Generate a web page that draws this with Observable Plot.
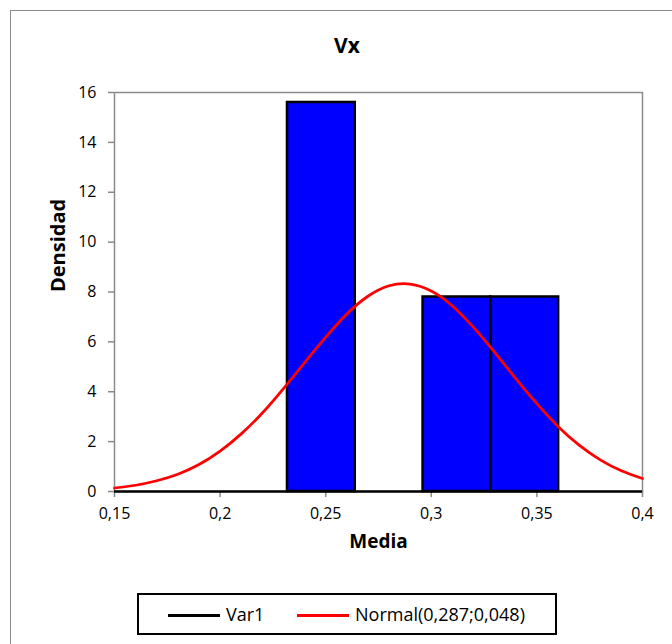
<!DOCTYPE html>
<html>
<head>
<meta charset="utf-8">
<script src="https://cdn.jsdelivr.net/npm/d3@7"></script>
<script src="https://cdn.jsdelivr.net/npm/@observablehq/plot@0.6"></script>
<style>
  html, body { margin: 0; padding: 0; background: #fff; }
  #wrap { position: relative; width: 672px; height: 644px; overflow: hidden; font-family: "Open Sans", sans-serif; }
  #outer { position: absolute; left: 10px; top: 10px; width: 700px; height: 700px; border: 1.5px solid #8a8a8a; box-sizing: border-box; }
  #chart { position: absolute; left: 0; top: 0; }
  #title { position: absolute; left: 247px; width: 200px; top: 30px; text-align: center; font-weight: bold; font-size: 21px; line-height: 30px; }
  #legend { position: absolute; left: 137px; top: 593px; width: 420px; height: 42px; border: 2px solid #000; box-sizing: border-box; font-size: 18px; }
  .sw { position: absolute; top: 19px; width: 52px; height: 0; border-top: 3px solid #000; }
  .lt { position: absolute; top: 6px; line-height: 26px; }
</style>
</head>
<body>
<div id="wrap">
  <div id="outer"></div>
  <div id="chart"></div>
  <div id="title">Vx</div>
  <div id="legend">
    <div class="sw" style="left:29px;border-color:#000"></div>
    <div class="lt" style="left:87px">Var1</div>
    <div class="sw" style="left:158px;border-color:#ff0000"></div>
    <div class="lt" style="left:216px">Normal(0,287;0,048)</div>
  </div>
</div>
<script>
// Histogram bins (Media) and densities
const binStart = [0.2319, 0.2640, 0.2961, 0.3282];
const binEnd   = [0.2640, 0.2961, 0.3282, 0.3603];
const density  = [15.6, 0, 7.8, 7.8];

// Normal(0,287;0,048) curve points
const curveX = [0.15, 0.16, 0.17, 0.18, 0.19, 0.20, 0.21, 0.22, 0.23, 0.24, 0.25, 0.26, 0.27, 0.28, 0.29, 0.30, 0.31, 0.32, 0.33, 0.34, 0.35, 0.36, 0.37, 0.38, 0.39, 0.40];
const curveY = [0.14, 0.25, 0.43, 0.69, 1.08, 1.62, 2.31, 3.15, 4.13, 5.17, 6.19, 7.12, 7.83, 8.25, 8.32, 8.04, 7.44, 6.58, 5.58, 4.53, 3.52, 2.61, 1.86, 1.27, 0.83, 0.52];

// Axis ticks
const xTicks = [0.15, 0.2, 0.25, 0.3, 0.35, 0.4];
const yTicks = [0, 2, 4, 6, 8, 10, 12, 14, 16];

const bars = binStart.map((s, i) => ({x1: s, x2: binEnd[i], y: density[i]})).filter(d => d.y > 0);
const curve = curveX.map((x, i) => ({x, y: curveY[i]}));
const fmt = d => String(d).replace(".", ",");

const plot = Plot.plot({
  width: 672,
  height: 580,
  marginLeft: 114,
  marginRight: 30,
  marginTop: 92,
  marginBottom: 89,
  style: {fontFamily: "Open Sans, sans-serif", fontSize: "16px", color: "#000", background: "transparent"},
  x: {domain: [0.15, 0.4]},
  y: {domain: [0, 16]},
  marks: [
    Plot.frame({stroke: "#8a8a8a", strokeWidth: 1.5}),
    Plot.axisY({ticks: yTicks, tickSize: 6, tickPadding: 12, tickFormat: d => String(d), stroke: "#8a8a8a", fill: "#000", strokeWidth: 1.5, label: null}),
    Plot.axisX({ticks: xTicks, tickSize: 6, tickPadding: 10, tickFormat: fmt, stroke: "#8a8a8a", fill: "#000", strokeWidth: 1.5, label: null}),
    Plot.rectY(bars, {x1: "x1", x2: "x2", y: "y", fill: "#0000ff", stroke: "#000", strokeWidth: 2.5}),
    Plot.ruleY([0], {stroke: "#000", strokeWidth: 2.5}),
    Plot.line(curve, {x: "x", y: "y", stroke: "#ff0000", strokeWidth: 2.75, curve: "natural"}),
    Plot.text(["Densidad"], {frameAnchor: "left", dx: -56, rotate: -90, fontWeight: "bold", fontSize: 20, fill: "#000"}),
    Plot.text(["Media"], {frameAnchor: "bottom", dy: 56, fontWeight: "bold", fontSize: 19, fill: "#000"})
  ]
});
document.getElementById("chart").appendChild(plot);
</script>
</body>
</html>
